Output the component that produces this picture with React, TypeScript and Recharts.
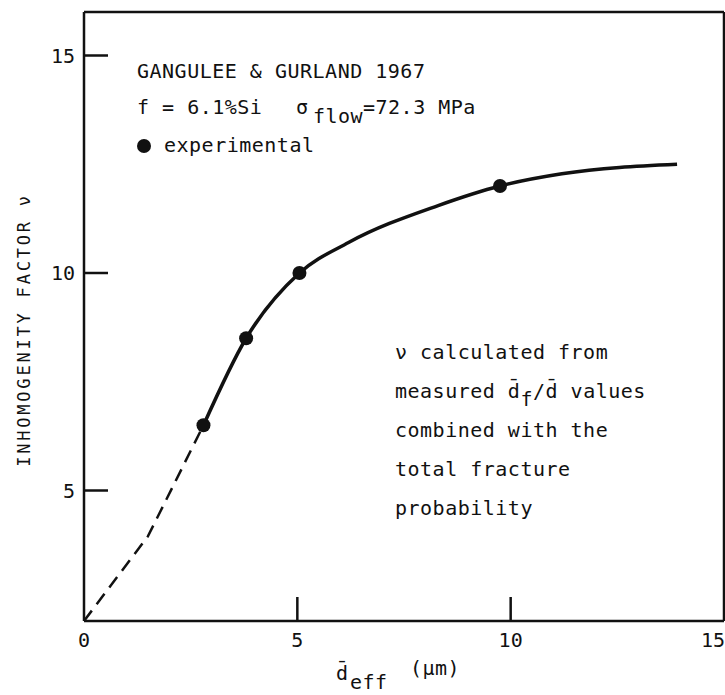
import React from 'react';
import { ComposedChart, Line, Scatter, XAxis, YAxis } from 'recharts';

const xTicks = [0, 5, 10, 15];
const yTicks = [5, 10, 15];

// experimental points (d_eff in um, inhomogeneity factor nu)
const measured = [
  { d: 2.8, v: 6.5 },
  { d: 3.8, v: 8.5 },
  { d: 5.05, v: 10 },
  { d: 9.75, v: 12 },
];

// solid curve
const fitCurve = [
  { d: 2.8, v: 6.5 },
  { d: 3.8, v: 8.5 },
  { d: 5.05, v: 10 },
  { d: 6.2, v: 10.7 },
  { d: 8.3, v: 11.55 },
  { d: 9.75, v: 12 },
  { d: 11.2, v: 12.28 },
  { d: 13.9, v: 12.5 },
];

// dashed extrapolation towards origin
const extrapolated = [
  { d: 0, v: 2 },
  { d: 1.5, v: 3.95 },
  { d: 2.8, v: 6.5 },
];

const FONT = '"DejaVu Sans Mono", monospace';
const INK = '#111';
const TICK_LEN = 24;

const BottomTick = (props: any) => {
  const { x, y, payload } = props;
  const v = payload.value;
  const edge = v === 0 || v === 15;
  return (
    <g>
      {!edge && <line x1={x} y1={y} x2={x} y2={y - TICK_LEN} stroke={INK} strokeWidth={2.5} />}
      <text
        x={v === 15 ? x + 1 : x}
        y={y + 26}
        textAnchor={v === 15 ? 'end' : 'middle'}
        fontFamily={FONT}
        fontSize={20}
        fill={INK}
      >
        {v}
      </text>
    </g>
  );
};

const TopTick = (props: any) => {
  const { x, y, payload } = props;
  if (payload.value === 0 || payload.value === 15) return <g />;
  return <line x1={x} y1={y} x2={x} y2={y + TICK_LEN} stroke={INK} strokeWidth={2.5} />;
};

const LeftTick = (props: any) => {
  const { x, y, payload } = props;
  return (
    <g>
      <line x1={x} y1={y} x2={x + TICK_LEN} y2={y} stroke={INK} strokeWidth={2.5} />
      <text x={x - 9} y={y + 7} textAnchor="end" fontFamily={FONT} fontSize={20} fill={INK}>
        {payload.value}
      </text>
    </g>
  );
};

const RightTick = (props: any) => {
  const { x, y } = props;
  return <line x1={x} y1={y} x2={x - TICK_LEN} y2={y} stroke={INK} strokeWidth={2.5} />;
};

const Dot = (props: any) => <circle cx={props.cx} cy={props.cy} r={7} fill={INK} />;

const axisLine = { stroke: INK, strokeWidth: 2.5 };

export default function App() {
  const txt = { fontFamily: FONT, fontSize: 20, fill: INK, letterSpacing: 0.5 } as const;
  return (
    <div style={{ position: 'absolute', left: 0, top: 0, width: 725, height: 695, background: '#fff' }}>
      <ComposedChart width={725} height={695} margin={{ top: 11, right: 0, bottom: 73, left: 83 }}>
        <XAxis
          xAxisId="b"
          type="number"
          dataKey="d"
          domain={[0, 15]}
          ticks={xTicks}
          height={1}
          tickSize={0}
          tickMargin={0}
          tickLine={false}
          axisLine={axisLine}
          tick={<BottomTick />}
          interval={0}
        />
        <XAxis
          xAxisId="t"
          orientation="top"
          type="number"
          domain={[0, 15]}
          ticks={xTicks}
          height={1}
          tickSize={0}
          tickMargin={0}
          tickLine={false}
          axisLine={axisLine}
          tick={<TopTick />}
          interval={0}
        />
        <YAxis
          yAxisId="l"
          type="number"
          dataKey="v"
          domain={[2, 16]}
          ticks={yTicks}
          width={1}
          tickSize={0}
          tickMargin={0}
          tickLine={false}
          axisLine={axisLine}
          tick={<LeftTick />}
          interval={0}
        />
        <YAxis
          yAxisId="r"
          orientation="right"
          type="number"
          domain={[2, 16]}
          ticks={yTicks}
          width={1}
          tickSize={0}
          tickMargin={0}
          tickLine={false}
          axisLine={axisLine}
          tick={<RightTick />}
          interval={0}
        />
        <Line
          xAxisId="b"
          yAxisId="l"
          data={extrapolated}
          dataKey="v"
          type="linear"
          stroke={INK}
          strokeWidth={2.5}
          strokeDasharray="13 8"
          dot={false}
          isAnimationActive={false}
        />
        <Line
          xAxisId="b"
          yAxisId="l"
          data={fitCurve}
          dataKey="v"
          type="monotone"
          stroke={INK}
          strokeWidth={3.5}
          dot={false}
          isAnimationActive={false}
        />
        <Scatter
          xAxisId="b"
          yAxisId="l"
          data={measured}
          dataKey="v"
          shape={<Dot />}
          isAnimationActive={false}
        />
      </ComposedChart>

      <svg
        width={725}
        height={695}
        style={{ position: 'absolute', left: 0, top: 0, pointerEvents: 'none' }}
      >
        <text x={137} y={78} {...txt}>GANGULEE &amp; GURLAND 1967</text>
        <text x={137} y={114} {...txt}>f = 6.1%Si</text>
        <text x={296} y={114} {...txt}>σ</text>
        <text x={313} y={123} {...txt}>flow</text>
        <text x={363} y={114} {...txt}>=72.3 MPa</text>
        <circle cx={144} cy={146} r={7} fill={INK} />
        <text x={164} y={152} {...txt}>experimental</text>

        <text x={395} y={359} {...txt}>ν calculated from</text>
        <text x={395} y={398} {...txt}>
          measured d̄<tspan dy={8}>f</tspan><tspan dy={-8}>/d̄ values</tspan>
        </text>
        <text x={395} y={437} {...txt}>combined with the</text>
        <text x={395} y={476} {...txt}>total fracture</text>
        <text x={395} y={515} {...txt}>probability</text>

        <text
          transform="translate(30 330) rotate(-90)"
          textAnchor="middle"
          fontFamily={FONT}
          fontSize={17}
          fill={INK}
          letterSpacing={2.8}
        >
          INHOMOGENITY FACTOR ν
        </text>

        <text x={336} y={680} {...txt}>d̄</text>
        <text x={350} y={689} {...txt}>eff</text>
        <text x={410} y={675} {...txt}>(μm)</text>
      </svg>
    </div>
  );
}
